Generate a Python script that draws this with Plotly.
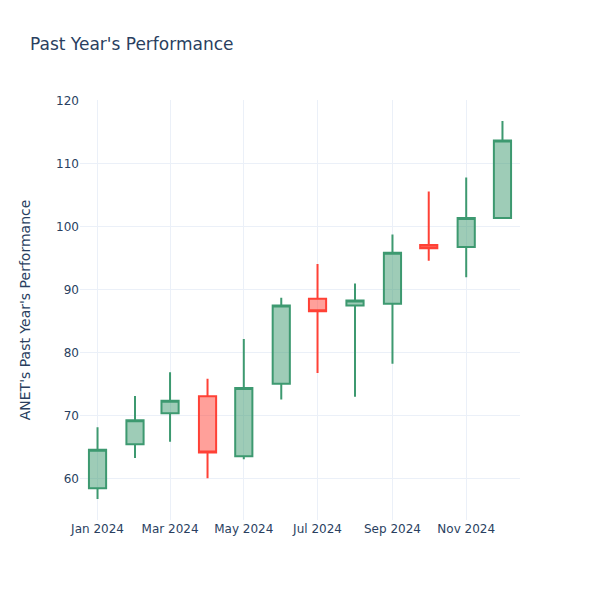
import plotly.graph_objects as go

dates = ["2024-01-01", "2024-02-01", "2024-03-01", "2024-04-01", "2024-05-01", "2024-06-01",
         "2024-07-01", "2024-08-01", "2024-09-01", "2024-10-01", "2024-11-01", "2024-12-01"]
opens = [58.5, 65.5, 70.4, 73.1, 63.6, 75.1, 88.6, 87.5, 87.8, 97.1, 96.8, 101.4]
highs = [68.2, 73.15, 76.9, 75.9, 82.2, 88.75, 94.1, 91.0, 98.8, 105.6, 107.85, 116.8]
lows = [56.8, 63.3, 65.9, 60.1, 63.1, 72.6, 76.8, 73.05, 78.25, 94.6, 92.0, 101.4]
closes = [64.6, 69.3, 72.4, 64.2, 74.4, 87.5, 86.6, 88.3, 95.9, 96.6, 101.4, 113.7]

fig = go.Figure(go.Candlestick(x=dates, open=opens, high=highs, low=lows, close=closes))
fig.update_layout(
    template="plotly_white",
    width=600, height=600,
    font=dict(family="DejaVu Sans"),
    title="Past Year's Performance",
    yaxis_title="ANET's Past Year's Performance",
    yaxis_title_standoff=22,
    xaxis_rangeslider_visible=False,
)
fig.write_html("out.html", config={"displayModeBar": False},
               post_script="document.body.style.margin='0';")
